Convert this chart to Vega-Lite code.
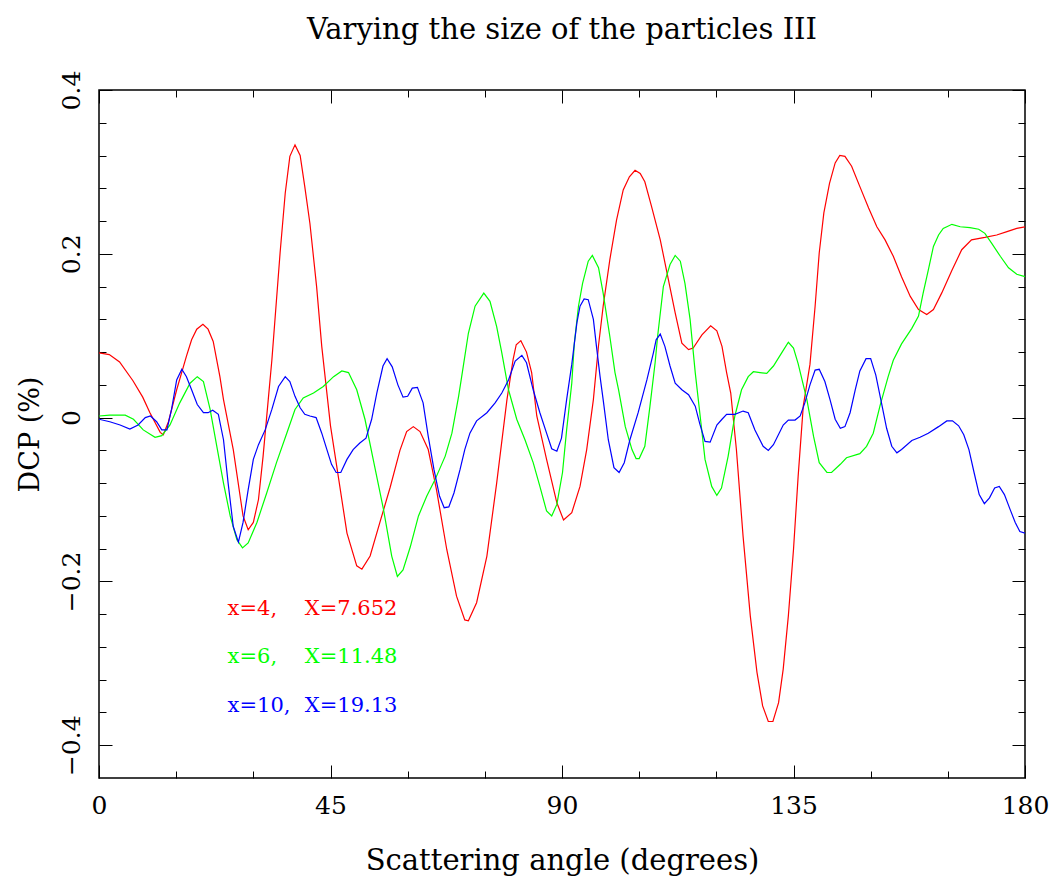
{
  "$schema": "https://vega.github.io/schema/vega-lite/v6.json",
  "width": 926,
  "height": 688,
  "autosize": {"type": "none"},
  "padding": {"left": 99, "top": 90, "right": 30, "bottom": 101},
  "background": "white",
  "title": {"text": "Varying the size of the particles III", "fontSize": 29, "font": "DejaVu Serif", "fontWeight": "normal", "anchor": "middle", "offset": 25, "color": "#000"},
  "config": {
    "view": {"stroke": "#000", "strokeWidth": 1.5},
    "axis": {"domain": false, "grid": false, "labelColor": "#000", "titleColor": "#000", "tickColor": "#000", "labelFont": "DejaVu Serif", "titleFont": "DejaVu Serif", "labelFontWeight": "normal", "titleFontWeight": "normal", "tickWidth": 1}
  },
  "resolve": {"scale": {"x": "shared", "y": "shared"}, "axis": {"x": "independent", "y": "independent"}},
  "layer": [
    {
      "data": {"values": [
        {"series":"x=4","angle":0,"dcp":0.079},{"series":"x=4","angle":2,"dcp":0.077},{"series":"x=4","angle":4,"dcp":0.068},{"series":"x=4","angle":6.6,"dcp":0.045},{"series":"x=4","angle":8.5,"dcp":0.025},{"series":"x=4","angle":9.9,"dcp":0.006},{"series":"x=4","angle":11.9,"dcp":-0.018},{"series":"x=4","angle":12.5,"dcp":-0.021},{"series":"x=4","angle":13.5,"dcp":-0.005},{"series":"x=4","angle":15.1,"dcp":0.034},{"series":"x=4","angle":17.0,"dcp":0.075},{"series":"x=4","angle":18.0,"dcp":0.095},{"series":"x=4","angle":19.0,"dcp":0.108},{"series":"x=4","angle":20.2,"dcp":0.114},{"series":"x=4","angle":21.2,"dcp":0.108},{"series":"x=4","angle":22.2,"dcp":0.093},{"series":"x=4","angle":23.5,"dcp":0.05},{"series":"x=4","angle":24.2,"dcp":0.022},{"series":"x=4","angle":26.1,"dcp":-0.039},{"series":"x=4","angle":28.0,"dcp":-0.12},{"series":"x=4","angle":29.0,"dcp":-0.137},{"series":"x=4","angle":30.0,"dcp":-0.128},{"series":"x=4","angle":31.0,"dcp":-0.1},{"series":"x=4","angle":31.9,"dcp":-0.047},{"series":"x=4","angle":32.9,"dcp":0.022},{"series":"x=4","angle":33.6,"dcp":0.07},{"series":"x=4","angle":35.2,"dcp":0.201},{"series":"x=4","angle":36.2,"dcp":0.274},{"series":"x=4","angle":37.1,"dcp":0.319},{"series":"x=4","angle":38.1,"dcp":0.333},{"series":"x=4","angle":39.1,"dcp":0.32},{"series":"x=4","angle":40.0,"dcp":0.282},{"series":"x=4","angle":41.0,"dcp":0.237},{"series":"x=4","angle":42.3,"dcp":0.16},{"series":"x=4","angle":43.3,"dcp":0.087},{"series":"x=4","angle":45.0,"dcp":-0.01},{"series":"x=4","angle":46.2,"dcp":-0.059},{"series":"x=4","angle":48.2,"dcp":-0.141},{"series":"x=4","angle":50.1,"dcp":-0.181},{"series":"x=4","angle":51.1,"dcp":-0.185},{"series":"x=4","angle":52.7,"dcp":-0.169},{"series":"x=4","angle":54.6,"dcp":-0.128},{"series":"x=4","angle":56.6,"dcp":-0.085},{"series":"x=4","angle":58.5,"dcp":-0.04},{"series":"x=4","angle":59.8,"dcp":-0.017},{"series":"x=4","angle":61.1,"dcp":-0.011},{"series":"x=4","angle":62.4,"dcp":-0.017},{"series":"x=4","angle":64.0,"dcp":-0.039},{"series":"x=4","angle":65.6,"dcp":-0.088},{"series":"x=4","angle":67.6,"dcp":-0.161},{"series":"x=4","angle":69.5,"dcp":-0.218},{"series":"x=4","angle":71.1,"dcp":-0.247},{"series":"x=4","angle":71.8,"dcp":-0.248},{"series":"x=4","angle":73.4,"dcp":-0.226},{"series":"x=4","angle":75.4,"dcp":-0.169},{"series":"x=4","angle":77.3,"dcp":-0.08},{"series":"x=4","angle":79.3,"dcp":0.022},{"series":"x=4","angle":80.5,"dcp":0.071},{"series":"x=4","angle":81.1,"dcp":0.089},{"series":"x=4","angle":82.0,"dcp":0.094},{"series":"x=4","angle":83.1,"dcp":0.08},{"series":"x=4","angle":84.1,"dcp":0.055},{"series":"x=4","angle":85.1,"dcp":0.002},{"series":"x=4","angle":87.0,"dcp":-0.051},{"series":"x=4","angle":89.0,"dcp":-0.104},{"series":"x=4","angle":90.3,"dcp":-0.125},{"series":"x=4","angle":91.9,"dcp":-0.116},{"series":"x=4","angle":93.5,"dcp":-0.084},{"series":"x=4","angle":94.8,"dcp":-0.039},{"series":"x=4","angle":96.1,"dcp":0.022},{"series":"x=4","angle":97.1,"dcp":0.088},{"series":"x=4","angle":98.0,"dcp":0.136},{"series":"x=4","angle":99.3,"dcp":0.193},{"series":"x=4","angle":100.6,"dcp":0.241},{"series":"x=4","angle":101.9,"dcp":0.278},{"series":"x=4","angle":103.1,"dcp":0.294},{"series":"x=4","angle":104.2,"dcp":0.302},{"series":"x=4","angle":105.2,"dcp":0.298},{"series":"x=4","angle":106.1,"dcp":0.288},{"series":"x=4","angle":107.4,"dcp":0.258},{"series":"x=4","angle":109.1,"dcp":0.217},{"series":"x=4","angle":110.7,"dcp":0.168},{"series":"x=4","angle":112.0,"dcp":0.128},{"series":"x=4","angle":113.3,"dcp":0.091},{"series":"x=4","angle":114.6,"dcp":0.083},{"series":"x=4","angle":115.5,"dcp":0.085},{"series":"x=4","angle":117.2,"dcp":0.101},{"series":"x=4","angle":118.9,"dcp":0.112},{"series":"x=4","angle":120.1,"dcp":0.106},{"series":"x=4","angle":121.1,"dcp":0.087},{"series":"x=4","angle":122.0,"dcp":0.055},{"series":"x=4","angle":122.8,"dcp":0.03},{"series":"x=4","angle":123.9,"dcp":-0.039},{"series":"x=4","angle":125.2,"dcp":-0.145},{"series":"x=4","angle":126.6,"dcp":-0.242},{"series":"x=4","angle":127.9,"dcp":-0.311},{"series":"x=4","angle":129.0,"dcp":-0.352},{"series":"x=4","angle":130.1,"dcp":-0.371},{"series":"x=4","angle":131.0,"dcp":-0.371},{"series":"x=4","angle":132.1,"dcp":-0.348},{"series":"x=4","angle":133.0,"dcp":-0.307},{"series":"x=4","angle":134.0,"dcp":-0.242},{"series":"x=4","angle":135.0,"dcp":-0.161},{"series":"x=4","angle":135.9,"dcp":-0.072},{"series":"x=4","angle":136.9,"dcp":0.014},{"series":"x=4","angle":138.2,"dcp":0.065},{"series":"x=4","angle":139.2,"dcp":0.136},{"series":"x=4","angle":140.0,"dcp":0.201},{"series":"x=4","angle":140.9,"dcp":0.25},{"series":"x=4","angle":142.0,"dcp":0.286},{"series":"x=4","angle":143.1,"dcp":0.311},{"series":"x=4","angle":144.0,"dcp":0.32},{"series":"x=4","angle":145.0,"dcp":0.319},{"series":"x=4","angle":146.3,"dcp":0.307},{"series":"x=4","angle":147.9,"dcp":0.282},{"series":"x=4","angle":149.6,"dcp":0.256},{"series":"x=4","angle":151.2,"dcp":0.233},{"series":"x=4","angle":152.8,"dcp":0.217},{"series":"x=4","angle":154.4,"dcp":0.197},{"series":"x=4","angle":156.0,"dcp":0.172},{"series":"x=4","angle":157.7,"dcp":0.148},{"series":"x=4","angle":159.3,"dcp":0.132},{"series":"x=4","angle":160.9,"dcp":0.126},{"series":"x=4","angle":162.2,"dcp":0.132},{"series":"x=4","angle":163.8,"dcp":0.152},{"series":"x=4","angle":165.8,"dcp":0.18},{"series":"x=4","angle":167.7,"dcp":0.205},{"series":"x=4","angle":169.6,"dcp":0.217},{"series":"x=4","angle":172.2,"dcp":0.22},{"series":"x=4","angle":174.5,"dcp":0.223},{"series":"x=4","angle":176.5,"dcp":0.227},{"series":"x=4","angle":178.4,"dcp":0.231},{"series":"x=4","angle":180,"dcp":0.233},

        {"series":"x=6","angle":0,"dcp":0.002},{"series":"x=6","angle":2.1,"dcp":0.003},{"series":"x=6","angle":5.1,"dcp":0.003},{"series":"x=6","angle":6.7,"dcp":-0.002},{"series":"x=6","angle":8.6,"dcp":-0.015},{"series":"x=6","angle":10.9,"dcp":-0.024},{"series":"x=6","angle":12.2,"dcp":-0.022},{"series":"x=6","angle":13.8,"dcp":-0.009},{"series":"x=6","angle":15.7,"dcp":0.018},{"series":"x=6","angle":17.7,"dcp":0.042},{"series":"x=6","angle":19.1,"dcp":0.05},{"series":"x=6","angle":20.3,"dcp":0.044},{"series":"x=6","angle":21.6,"dcp":0.01},{"series":"x=6","angle":22.9,"dcp":-0.035},{"series":"x=6","angle":24.2,"dcp":-0.08},{"series":"x=6","angle":25.5,"dcp":-0.12},{"series":"x=6","angle":26.8,"dcp":-0.149},{"series":"x=6","angle":27.9,"dcp":-0.159},{"series":"x=6","angle":29.0,"dcp":-0.153},{"series":"x=6","angle":30.7,"dcp":-0.128},{"series":"x=6","angle":32.6,"dcp":-0.092},{"series":"x=6","angle":34.5,"dcp":-0.055},{"series":"x=6","angle":36.5,"dcp":-0.019},{"series":"x=6","angle":38.1,"dcp":0.01},{"series":"x=6","angle":39.7,"dcp":0.024},{"series":"x=6","angle":41.7,"dcp":0.03},{"series":"x=6","angle":43.6,"dcp":0.038},{"series":"x=6","angle":45.6,"dcp":0.05},{"series":"x=6","angle":47.2,"dcp":0.057},{"series":"x=6","angle":48.5,"dcp":0.055},{"series":"x=6","angle":50.1,"dcp":0.034},{"series":"x=6","angle":51.7,"dcp":-0.002},{"series":"x=6","angle":53.3,"dcp":-0.051},{"series":"x=6","angle":55.3,"dcp":-0.112},{"series":"x=6","angle":56.9,"dcp":-0.169},{"series":"x=6","angle":58.0,"dcp":-0.194},{"series":"x=6","angle":59.1,"dcp":-0.186},{"series":"x=6","angle":60.5,"dcp":-0.158},{"series":"x=6","angle":62.1,"dcp":-0.12},{"series":"x=6","angle":63.7,"dcp":-0.096},{"series":"x=6","angle":65.3,"dcp":-0.076},{"series":"x=6","angle":67.3,"dcp":-0.047},{"series":"x=6","angle":68.6,"dcp":-0.019},{"series":"x=6","angle":69.9,"dcp":0.026},{"series":"x=6","angle":70.5,"dcp":0.05},{"series":"x=6","angle":71.8,"dcp":0.103},{"series":"x=6","angle":73.1,"dcp":0.136},{"series":"x=6","angle":74.8,"dcp":0.152},{"series":"x=6","angle":76.0,"dcp":0.142},{"series":"x=6","angle":77.3,"dcp":0.111},{"series":"x=6","angle":78.3,"dcp":0.079},{"series":"x=6","angle":79.6,"dcp":0.034},{"series":"x=6","angle":81.2,"dcp":-0.002},{"series":"x=6","angle":82.8,"dcp":-0.027},{"series":"x=6","angle":84.4,"dcp":-0.055},{"series":"x=6","angle":85.7,"dcp":-0.084},{"series":"x=6","angle":87.0,"dcp":-0.114},{"series":"x=6","angle":88.0,"dcp":-0.12},{"series":"x=6","angle":89.0,"dcp":-0.106},{"series":"x=6","angle":90.1,"dcp":-0.067},{"series":"x=6","angle":90.9,"dcp":-0.015},{"series":"x=6","angle":91.9,"dcp":0.042},{"series":"x=6","angle":92.4,"dcp":0.091},{"series":"x=6","angle":93.2,"dcp":0.136},{"series":"x=6","angle":94.0,"dcp":0.164},{"series":"x=6","angle":95.1,"dcp":0.191},{"series":"x=6","angle":95.9,"dcp":0.198},{"series":"x=6","angle":97.1,"dcp":0.183},{"series":"x=6","angle":98.0,"dcp":0.152},{"series":"x=6","angle":99.3,"dcp":0.099},{"series":"x=6","angle":100.3,"dcp":0.055},{"series":"x=6","angle":101.0,"dcp":0.034},{"series":"x=6","angle":102.3,"dcp":-0.011},{"series":"x=6","angle":103.6,"dcp":-0.039},{"series":"x=6","angle":104.4,"dcp":-0.05},{"series":"x=6","angle":105.0,"dcp":-0.05},{"series":"x=6","angle":106.1,"dcp":-0.035},{"series":"x=6","angle":107.1,"dcp":0.014},{"series":"x=6","angle":108.1,"dcp":0.067},{"series":"x=6","angle":108.6,"dcp":0.1},{"series":"x=6","angle":109.7,"dcp":0.16},{"series":"x=6","angle":111.0,"dcp":0.187},{"series":"x=6","angle":112.0,"dcp":0.198},{"series":"x=6","angle":113.0,"dcp":0.191},{"series":"x=6","angle":113.9,"dcp":0.164},{"series":"x=6","angle":114.9,"dcp":0.12},{"series":"x=6","angle":115.9,"dcp":0.055},{"series":"x=6","angle":116.8,"dcp":0.005},{"series":"x=6","angle":117.8,"dcp":-0.051},{"series":"x=6","angle":119.1,"dcp":-0.084},{"series":"x=6","angle":120.1,"dcp":-0.095},{"series":"x=6","angle":121.0,"dcp":-0.086},{"series":"x=6","angle":122.3,"dcp":-0.047},{"series":"x=6","angle":123.6,"dcp":0.002},{"series":"x=6","angle":124.9,"dcp":0.034},{"series":"x=6","angle":126.2,"dcp":0.05},{"series":"x=6","angle":127.2,"dcp":0.056},{"series":"x=6","angle":128.5,"dcp":0.055},{"series":"x=6","angle":129.8,"dcp":0.054},{"series":"x=6","angle":131.1,"dcp":0.063},{"series":"x=6","angle":132.7,"dcp":0.079},{"series":"x=6","angle":134.0,"dcp":0.092},{"series":"x=6","angle":135.0,"dcp":0.085},{"series":"x=6","angle":135.9,"dcp":0.066},{"series":"x=6","angle":137.6,"dcp":0.022},{"series":"x=6","angle":138.9,"dcp":-0.023},{"series":"x=6","angle":140.0,"dcp":-0.055},{"series":"x=6","angle":141.5,"dcp":-0.067},{"series":"x=6","angle":142.4,"dcp":-0.067},{"series":"x=6","angle":144.1,"dcp":-0.057},{"series":"x=6","angle":145.3,"dcp":-0.049},{"series":"x=6","angle":147.9,"dcp":-0.044},{"series":"x=6","angle":149.2,"dcp":-0.035},{"series":"x=6","angle":150.5,"dcp":-0.019},{"series":"x=6","angle":151.8,"dcp":0.014},{"series":"x=6","angle":153.4,"dcp":0.05},{"series":"x=6","angle":154.4,"dcp":0.07},{"series":"x=6","angle":156.0,"dcp":0.09},{"series":"x=6","angle":158.0,"dcp":0.109},{"series":"x=6","angle":159.3,"dcp":0.124},{"series":"x=6","angle":160.2,"dcp":0.152},{"series":"x=6","angle":161.2,"dcp":0.18},{"series":"x=6","angle":162.2,"dcp":0.209},{"series":"x=6","angle":163.2,"dcp":0.223},{"series":"x=6","angle":164.1,"dcp":0.231},{"series":"x=6","angle":165.8,"dcp":0.236},{"series":"x=6","angle":167.4,"dcp":0.233},{"series":"x=6","angle":169.3,"dcp":0.232},{"series":"x=6","angle":171.0,"dcp":0.23},{"series":"x=6","angle":172.2,"dcp":0.225},{"series":"x=6","angle":173.5,"dcp":0.213},{"series":"x=6","angle":175.2,"dcp":0.197},{"series":"x=6","angle":176.8,"dcp":0.183},{"series":"x=6","angle":178.4,"dcp":0.175},{"series":"x=6","angle":180,"dcp":0.172},

        {"series":"x=10","angle":0,"dcp":-0.002},{"series":"x=10","angle":2.1,"dcp":-0.005},{"series":"x=10","angle":4.1,"dcp":-0.009},{"series":"x=10","angle":6.0,"dcp":-0.014},{"series":"x=10","angle":7.6,"dcp":-0.009},{"series":"x=10","angle":9.0,"dcp":0.0},{"series":"x=10","angle":10.0,"dcp":0.002},{"series":"x=10","angle":11.2,"dcp":-0.005},{"series":"x=10","angle":12.2,"dcp":-0.015},{"series":"x=10","angle":13.2,"dcp":-0.015},{"series":"x=10","angle":14.1,"dcp":0.01},{"series":"x=10","angle":15.1,"dcp":0.046},{"series":"x=10","angle":16.1,"dcp":0.059},{"series":"x=10","angle":17.0,"dcp":0.05},{"series":"x=10","angle":18.0,"dcp":0.034},{"series":"x=10","angle":19.1,"dcp":0.016},{"series":"x=10","angle":20.3,"dcp":0.006},{"series":"x=10","angle":21.2,"dcp":0.006},{"series":"x=10","angle":22.1,"dcp":0.009},{"series":"x=10","angle":23.2,"dcp":0.004},{"series":"x=10","angle":24.2,"dcp":-0.027},{"series":"x=10","angle":25.1,"dcp":-0.08},{"series":"x=10","angle":26.1,"dcp":-0.133},{"series":"x=10","angle":27.1,"dcp":-0.152},{"series":"x=10","angle":28.0,"dcp":-0.128},{"series":"x=10","angle":29.0,"dcp":-0.088},{"series":"x=10","angle":30.0,"dcp":-0.051},{"series":"x=10","angle":31.0,"dcp":-0.033},{"series":"x=10","angle":32.3,"dcp":-0.015},{"series":"x=10","angle":33.6,"dcp":0.01},{"series":"x=10","angle":34.9,"dcp":0.038},{"series":"x=10","angle":36.2,"dcp":0.05},{"series":"x=10","angle":37.1,"dcp":0.044},{"series":"x=10","angle":38.1,"dcp":0.026},{"series":"x=10","angle":39.1,"dcp":0.012},{"series":"x=10","angle":40.0,"dcp":0.004},{"series":"x=10","angle":41.0,"dcp":0.002},{"series":"x=10","angle":42.2,"dcp":0.0},{"series":"x=10","angle":43.3,"dcp":-0.019},{"series":"x=10","angle":44.3,"dcp":-0.039},{"series":"x=10","angle":45.2,"dcp":-0.057},{"series":"x=10","angle":46.1,"dcp":-0.067},{"series":"x=10","angle":47.0,"dcp":-0.067},{"series":"x=10","angle":48.2,"dcp":-0.051},{"series":"x=10","angle":49.4,"dcp":-0.039},{"series":"x=10","angle":50.7,"dcp":-0.031},{"series":"x=10","angle":51.9,"dcp":-0.025},{"series":"x=10","angle":53.0,"dcp":-0.002},{"series":"x=10","angle":54.0,"dcp":0.03},{"series":"x=10","angle":55.2,"dcp":0.063},{"series":"x=10","angle":56.0,"dcp":0.072},{"series":"x=10","angle":57.0,"dcp":0.062},{"series":"x=10","angle":58.1,"dcp":0.04},{"series":"x=10","angle":59.1,"dcp":0.025},{"series":"x=10","angle":60.0,"dcp":0.026},{"series":"x=10","angle":60.9,"dcp":0.036},{"series":"x=10","angle":61.9,"dcp":0.037},{"series":"x=10","angle":63.0,"dcp":0.018},{"series":"x=10","angle":64.0,"dcp":-0.023},{"series":"x=10","angle":65.1,"dcp":-0.063},{"series":"x=10","angle":66.2,"dcp":-0.096},{"series":"x=10","angle":67.1,"dcp":-0.11},{"series":"x=10","angle":68.0,"dcp":-0.109},{"series":"x=10","angle":69.0,"dcp":-0.092},{"series":"x=10","angle":70.2,"dcp":-0.063},{"series":"x=10","angle":71.1,"dcp":-0.039},{"series":"x=10","angle":72.1,"dcp":-0.019},{"series":"x=10","angle":73.4,"dcp":-0.004},{"series":"x=10","angle":75.4,"dcp":0.006},{"series":"x=10","angle":77.0,"dcp":0.018},{"series":"x=10","angle":78.3,"dcp":0.03},{"series":"x=10","angle":79.6,"dcp":0.046},{"series":"x=10","angle":80.9,"dcp":0.069},{"series":"x=10","angle":82.2,"dcp":0.076},{"series":"x=10","angle":83.1,"dcp":0.067},{"series":"x=10","angle":84.4,"dcp":0.034},{"series":"x=10","angle":85.7,"dcp":0.006},{"series":"x=10","angle":87.0,"dcp":-0.019},{"series":"x=10","angle":88.0,"dcp":-0.038},{"series":"x=10","angle":89.0,"dcp":-0.041},{"series":"x=10","angle":89.9,"dcp":-0.025},{"series":"x=10","angle":90.9,"dcp":0.022},{"series":"x=10","angle":91.9,"dcp":0.065},{"series":"x=10","angle":92.9,"dcp":0.116},{"series":"x=10","angle":93.5,"dcp":0.136},{"series":"x=10","angle":94.3,"dcp":0.145},{"series":"x=10","angle":95.1,"dcp":0.144},{"series":"x=10","angle":96.1,"dcp":0.12},{"series":"x=10","angle":96.7,"dcp":0.087},{"series":"x=10","angle":97.4,"dcp":0.05},{"series":"x=10","angle":98.0,"dcp":0.022},{"series":"x=10","angle":99.0,"dcp":-0.027},{"series":"x=10","angle":100.1,"dcp":-0.061},{"series":"x=10","angle":101.1,"dcp":-0.067},{"series":"x=10","angle":102.1,"dcp":-0.055},{"series":"x=10","angle":103.2,"dcp":-0.027},{"series":"x=10","angle":104.8,"dcp":0.006},{"series":"x=10","angle":106.5,"dcp":0.046},{"series":"x=10","angle":107.8,"dcp":0.08},{"series":"x=10","angle":108.3,"dcp":0.095},{"series":"x=10","angle":109.1,"dcp":0.102},{"series":"x=10","angle":110.0,"dcp":0.087},{"series":"x=10","angle":111.0,"dcp":0.063},{"series":"x=10","angle":112.0,"dcp":0.042},{"series":"x=10","angle":113.3,"dcp":0.034},{"series":"x=10","angle":114.6,"dcp":0.028},{"series":"x=10","angle":115.9,"dcp":0.014},{"series":"x=10","angle":116.8,"dcp":-0.008},{"series":"x=10","angle":117.8,"dcp":-0.029},{"series":"x=10","angle":118.8,"dcp":-0.03},{"series":"x=10","angle":120.1,"dcp":-0.009},{"series":"x=10","angle":121.1,"dcp":-0.002},{"series":"x=10","angle":122.0,"dcp":0.004},{"series":"x=10","angle":123.6,"dcp":0.004},{"series":"x=10","angle":125.2,"dcp":0.008},{"series":"x=10","angle":126.2,"dcp":0.006},{"series":"x=10","angle":127.5,"dcp":-0.015},{"series":"x=10","angle":129.1,"dcp":-0.035},{"series":"x=10","angle":130.1,"dcp":-0.04},{"series":"x=10","angle":131.1,"dcp":-0.033},{"series":"x=10","angle":133.0,"dcp":-0.009},{"series":"x=10","angle":134.0,"dcp":-0.003},{"series":"x=10","angle":135.3,"dcp":-0.003},{"series":"x=10","angle":136.3,"dcp":0.002},{"series":"x=10","angle":137.2,"dcp":0.018},{"series":"x=10","angle":138.2,"dcp":0.04},{"series":"x=10","angle":139.2,"dcp":0.058},{"series":"x=10","angle":140.0,"dcp":0.059},{"series":"x=10","angle":141.1,"dcp":0.044},{"series":"x=10","angle":142.1,"dcp":0.022},{"series":"x=10","angle":143.1,"dcp":-0.002},{"series":"x=10","angle":144.1,"dcp":-0.013},{"series":"x=10","angle":145.0,"dcp":-0.011},{"series":"x=10","angle":146.0,"dcp":0.006},{"series":"x=10","angle":147.0,"dcp":0.034},{"series":"x=10","angle":147.9,"dcp":0.057},{"series":"x=10","angle":149.1,"dcp":0.072},{"series":"x=10","angle":150.0,"dcp":0.072},{"series":"x=10","angle":151.0,"dcp":0.052},{"series":"x=10","angle":152.1,"dcp":0.018},{"series":"x=10","angle":153.1,"dcp":-0.013},{"series":"x=10","angle":154.1,"dcp":-0.035},{"series":"x=10","angle":155.1,"dcp":-0.043},{"series":"x=10","angle":156.0,"dcp":-0.039},{"series":"x=10","angle":158.0,"dcp":-0.028},{"series":"x=10","angle":159.6,"dcp":-0.024},{"series":"x=10","angle":161.2,"dcp":-0.019},{"series":"x=10","angle":163.2,"dcp":-0.011},{"series":"x=10","angle":164.8,"dcp":-0.004},{"series":"x=10","angle":165.9,"dcp":-0.004},{"series":"x=10","angle":167.1,"dcp":-0.01},{"series":"x=10","angle":168.1,"dcp":-0.021},{"series":"x=10","angle":169.1,"dcp":-0.039},{"series":"x=10","angle":170.1,"dcp":-0.067},{"series":"x=10","angle":171.1,"dcp":-0.094},{"series":"x=10","angle":172.1,"dcp":-0.105},{"series":"x=10","angle":173.1,"dcp":-0.098},{"series":"x=10","angle":174.1,"dcp":-0.086},{"series":"x=10","angle":175.0,"dcp":-0.084},{"series":"x=10","angle":176.0,"dcp":-0.094},{"series":"x=10","angle":177.1,"dcp":-0.112},{"series":"x=10","angle":178.1,"dcp":-0.128},{"series":"x=10","angle":179.0,"dcp":-0.139},{"series":"x=10","angle":180,"dcp":-0.141}
      ]},
      "mark": {"type": "line", "strokeWidth": 1.2, "clip": true},
      "encoding": {
        "x": {"field": "angle", "type": "quantitative", "scale": {"domain": [0, 180], "nice": false, "zero": false},
              "axis": {"orient": "bottom", "values": [0, 45, 90, 135, 180], "ticks": false, "labelPadding": 15, "labelFontSize": 25, "labelFlush": false, "labelOverlap": false, "title": "Scattering angle (degrees)", "titleFontSize": 29, "titlePadding": 28}},
        "y": {"field": "dcp", "type": "quantitative", "scale": {"domain": [-0.44, 0.4], "nice": false, "zero": false},
              "axis": {"orient": "left", "values": [-0.4, -0.2, 0, 0.2, 0.4], "format": ".1~f", "ticks": false, "labelAngle": -90, "labelPadding": 15, "labelFontSize": 25, "labelFlush": false, "labelOverlap": false, "title": "DCP (%)", "titleFontSize": 27, "titlePadding": 15}},
        "color": {"field": "series", "type": "nominal", "scale": {"domain": ["x=4", "x=6", "x=10"], "range": ["#ff0000", "#00ff00", "#0000ff"]}, "legend": null}
      }
    },
    {
      "data": {"values": [
        {"series": "x=4", "label": "x=4,", "angle": 25, "dcp": -0.2415},
        {"series": "x=4", "label": "X=7.652", "angle": 40, "dcp": -0.2415},
        {"series": "x=6", "label": "x=6,", "angle": 25, "dcp": -0.2995},
        {"series": "x=6", "label": "X=11.48", "angle": 40, "dcp": -0.2995},
        {"series": "x=10", "label": "x=10,", "angle": 25, "dcp": -0.359},
        {"series": "x=10", "label": "X=19.13", "angle": 40, "dcp": -0.359}
      ]},
      "mark": {"type": "text", "align": "left", "baseline": "alphabetic", "font": "DejaVu Serif", "fontSize": 21},
      "encoding": {
        "x": {"field": "angle", "type": "quantitative", "scale": {"domain": [0, 180], "nice": false, "zero": false}, "axis": null},
        "y": {"field": "dcp", "type": "quantitative", "scale": {"domain": [-0.44, 0.4], "nice": false, "zero": false}, "axis": null},
        "text": {"field": "label"},
        "color": {"field": "series", "type": "nominal", "scale": {"domain": ["x=4", "x=6", "x=10"], "range": ["#ff0000", "#00ff00", "#0000ff"]}, "legend": null}
      }
    },
    {
      "data": {"values": [{"angle": 0, "dcp": 0}]},
      "mark": {"type": "point", "opacity": 0},
      "encoding": {
        "x": {"field": "angle", "type": "quantitative", "scale": {"domain": [0, 180], "nice": false, "zero": false}, "axis": {"orient": "bottom", "values": [0, 45, 90, 135, 180], "tickSize": -13, "labels": false, "title": null}},
        "y": {"field": "dcp", "type": "quantitative", "scale": {"domain": [-0.44, 0.4], "nice": false, "zero": false}, "axis": {"orient": "left", "values": [-0.4, -0.2, 0, 0.2, 0.4], "tickSize": -13, "labels": false, "title": null}}
      }
    },
    {
      "data": {"values": [{"angle": 0, "dcp": 0}]},
      "mark": {"type": "point", "opacity": 0},
      "encoding": {
        "x": {"field": "angle", "type": "quantitative", "scale": {"domain": [0, 180], "nice": false, "zero": false}, "axis": {"orient": "bottom", "values": [15, 30, 60, 75, 105, 120, 150, 165], "tickSize": -7, "labels": false, "title": null}},
        "y": {"field": "dcp", "type": "quantitative", "scale": {"domain": [-0.44, 0.4], "nice": false, "zero": false}, "axis": {"orient": "left", "values": [-0.36, -0.32, -0.28, -0.24, -0.16, -0.12, -0.08, -0.04, 0.04, 0.08, 0.12, 0.16, 0.24, 0.28, 0.32, 0.36], "tickSize": -7, "labels": false, "title": null}}
      }
    },
    {
      "data": {"values": [{"angle": 0, "dcp": 0}]},
      "mark": {"type": "point", "opacity": 0},
      "encoding": {
        "x": {"field": "angle", "type": "quantitative", "scale": {"domain": [0, 180], "nice": false, "zero": false}, "axis": {"orient": "top", "values": [0, 45, 90, 135, 180], "tickSize": -13, "labels": false, "title": null}},
        "y": {"field": "dcp", "type": "quantitative", "scale": {"domain": [-0.44, 0.4], "nice": false, "zero": false}, "axis": {"orient": "right", "values": [-0.4, -0.2, 0, 0.2, 0.4], "tickSize": -13, "labels": false, "title": null}}
      }
    },
    {
      "data": {"values": [{"angle": 0, "dcp": 0}]},
      "mark": {"type": "point", "opacity": 0},
      "encoding": {
        "x": {"field": "angle", "type": "quantitative", "scale": {"domain": [0, 180], "nice": false, "zero": false}, "axis": {"orient": "top", "values": [15, 30, 60, 75, 105, 120, 150, 165], "tickSize": -7, "labels": false, "title": null}},
        "y": {"field": "dcp", "type": "quantitative", "scale": {"domain": [-0.44, 0.4], "nice": false, "zero": false}, "axis": {"orient": "right", "values": [-0.36, -0.32, -0.28, -0.24, -0.16, -0.12, -0.08, -0.04, 0.04, 0.08, 0.12, 0.16, 0.24, 0.28, 0.32, 0.36], "tickSize": -7, "labels": false, "title": null}}
      }
    }
  ]
}
